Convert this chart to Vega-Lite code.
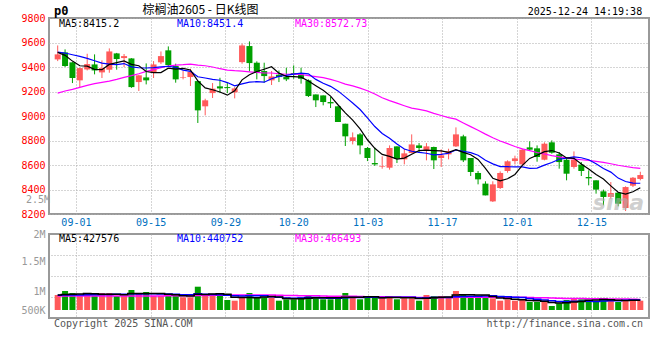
{
  "$schema": "https://vega.github.io/schema/vega-lite/v6.json",
  "autosize": {"type": "pad"},
  "padding": {"left": 19, "top": 3, "right": 0, "bottom": 0},
  "background": "#ffffff",
  "config": {
    "view": {"stroke": "#999999", "strokeWidth": 2},
    "font": "DejaVu Sans Mono",
    "text": {"font": "DejaVu Sans Mono", "fontSize": 10},
    "axis": {"labelFont": "DejaVu Sans Mono", "labelFontSize": 10, "domain": false, "ticks": false, "gridColor": "#aaaaaa", "gridDash": [1, 2], "gridWidth": 1, "title": null, "labelOverlap": false, "labelFlush": false}
  },
  "datasets": {
    "k": [
      {"i":0,"d":"08-27","o":9462,"h":9576,"l":9448,"c":9503,"v":660000,"m5":9519,"m10":9522,"m30":9187,"vm5":660000,"vm10":650000,"vm30":615000},
      {"i":1,"d":"08-28","o":9519,"h":9544,"l":9400,"c":9408,"v":836000,"m5":9495,"m10":9514,"m30":9204,"vm5":680000,"vm10":655000,"vm30":615000},
      {"i":2,"d":"08-29","o":9438,"h":9440,"l":9269,"c":9310,"v":748000,"m5":9448,"m10":9500,"m30":9217,"vm5":690000,"vm10":660000,"vm30":615000},
      {"i":3,"d":"09-01","o":9291,"h":9395,"l":9236,"c":9391,"v":616000,"m5":9410,"m10":9487,"m30":9234,"vm5":700000,"vm10":665000,"vm30":615000},
      {"i":4,"d":"09-02","o":9380,"h":9508,"l":9372,"c":9424,"v":748000,"m5":9407,"m10":9470,"m30":9250,"vm5":722000,"vm10":670000,"vm30":615000},
      {"i":5,"d":"09-03","o":9421,"h":9503,"l":9340,"c":9372,"v":616000,"m5":9381,"m10":9451,"m30":9264,"vm5":713000,"vm10":675000,"vm30":615000},
      {"i":6,"d":"09-04","o":9356,"h":9454,"l":9310,"c":9391,"v":748000,"m5":9378,"m10":9432,"m30":9274,"vm5":695000,"vm10":680000,"vm30":615000},
      {"i":7,"d":"09-05","o":9378,"h":9552,"l":9353,"c":9527,"v":748000,"m5":9421,"m10":9424,"m30":9285,"vm5":695000,"vm10":685000,"vm30":615000},
      {"i":8,"d":"09-08","o":9511,"h":9515,"l":9378,"c":9465,"v":616000,"m5":9436,"m10":9419,"m30":9299,"vm5":695000,"vm10":690000,"vm30":615000},
      {"i":9,"d":"09-09","o":9473,"h":9506,"l":9400,"c":9489,"v":616000,"m5":9449,"m10":9428,"m30":9315,"vm5":669000,"vm10":695000,"vm30":615000},
      {"i":10,"d":"09-10","o":9470,"h":9472,"l":9230,"c":9236,"v":880000,"m5":9422,"m10":9401,"m30":9329,"vm5":722000,"vm10":717000,"vm30":615000},
      {"i":11,"d":"09-11","o":9277,"h":9335,"l":9204,"c":9332,"v":748000,"m5":9410,"m10":9394,"m30":9345,"vm5":722000,"vm10":708000,"vm30":620000},
      {"i":12,"d":"09-12","o":9315,"h":9429,"l":9258,"c":9291,"v":792000,"m5":9363,"m10":9392,"m30":9364,"vm5":730000,"vm10":713000,"vm30":620000},
      {"i":13,"d":"09-15","o":9351,"h":9448,"l":9310,"c":9421,"v":616000,"m5":9354,"m10":9395,"m30":9378,"vm5":730000,"vm10":713000,"vm30":620000},
      {"i":14,"d":"09-16","o":9438,"h":9527,"l":9424,"c":9489,"v":616000,"m5":9354,"m10":9401,"m30":9394,"vm5":730000,"vm10":700000,"vm30":620000},
      {"i":15,"d":"09-17","o":9536,"h":9568,"l":9408,"c":9416,"v":704000,"m5":9390,"m10":9406,"m30":9408,"vm5":695000,"vm10":708000,"vm30":625000},
      {"i":16,"d":"09-18","o":9408,"h":9427,"l":9272,"c":9299,"v":616000,"m5":9383,"m10":9397,"m30":9416,"vm5":669000,"vm10":695000,"vm30":625000},
      {"i":17,"d":"09-19","o":9310,"h":9367,"l":9299,"c":9315,"v":559000,"m5":9388,"m10":9375,"m30":9419,"vm5":622000,"vm10":676000,"vm30":625000},
      {"i":18,"d":"09-22","o":9318,"h":9386,"l":9245,"c":9359,"v":559000,"m5":9376,"m10":9365,"m30":9424,"vm5":611000,"vm10":671000,"vm30":630000},
      {"i":19,"d":"09-23","o":9285,"h":9291,"l":8943,"c":9046,"v":1025000,"m5":9287,"m10":9320,"m30":9416,"vm5":693000,"vm10":712000,"vm30":635000},
      {"i":20,"d":"09-24","o":9079,"h":9141,"l":9005,"c":9128,"v":660000,"m5":9229,"m10":9310,"m30":9410,"vm5":684000,"vm10":690000,"vm30":640000},
      {"i":21,"d":"09-25","o":9187,"h":9269,"l":9147,"c":9223,"v":704000,"m5":9214,"m10":9299,"m30":9400,"vm5":701000,"vm10":685000,"vm30":645000},
      {"i":22,"d":"09-26","o":9242,"h":9312,"l":9187,"c":9225,"v":616000,"m5":9196,"m10":9292,"m30":9386,"vm5":713000,"vm10":668000,"vm30":650000},
      {"i":23,"d":"09-29","o":9236,"h":9269,"l":9187,"c":9228,"v":440000,"m5":9170,"m10":9273,"m30":9375,"vm5":689000,"vm10":650000,"vm30":655000},
      {"i":24,"d":"09-30","o":9193,"h":9236,"l":9144,"c":9225,"v":409000,"m5":9206,"m10":9246,"m30":9370,"vm5":566000,"vm10":629000,"vm30":655000},
      {"i":25,"d":"10-09","o":9440,"h":9590,"l":9427,"c":9576,"v":559000,"m5":9295,"m10":9262,"m30":9367,"vm5":546000,"vm10":615000,"vm30":658000},
      {"i":26,"d":"10-10","o":9571,"h":9609,"l":9364,"c":9432,"v":748000,"m5":9337,"m10":9276,"m30":9361,"vm5":554000,"vm10":628000,"vm30":660000},
      {"i":27,"d":"10-13","o":9435,"h":9446,"l":9299,"c":9353,"v":559000,"m5":9363,"m10":9280,"m30":9356,"vm5":543000,"vm10":628000,"vm30":662000},
      {"i":28,"d":"10-14","o":9367,"h":9435,"l":9272,"c":9326,"v":559000,"m5":9382,"m10":9276,"m30":9351,"vm5":567000,"vm10":628000,"vm30":663000},
      {"i":29,"d":"10-15","o":9291,"h":9367,"l":9253,"c":9323,"v":559000,"m5":9402,"m10":9304,"m30":9351,"vm5":597000,"vm10":581000,"vm30":663000},
      {"i":30,"d":"10-16","o":9337,"h":9372,"l":9277,"c":9318,"v":409000,"m5":9350,"m10":9323,"m30":9345,"vm5":567000,"vm10":556000,"vm30":654000},
      {"i":31,"d":"10-17","o":9318,"h":9394,"l":9285,"c":9299,"v":471000,"m5":9324,"m10":9331,"m30":9341,"vm5":511000,"vm10":533000,"vm30":642000},
      {"i":32,"d":"10-20","o":9351,"h":9413,"l":9304,"c":9342,"v":471000,"m5":9322,"m10":9342,"m30":9342,"vm5":494000,"vm10":518000,"vm30":633000},
      {"i":33,"d":"10-21","o":9340,"h":9394,"l":9264,"c":9304,"v":559000,"m5":9317,"m10":9350,"m30":9339,"vm5":494000,"vm10":530000,"vm30":631000},
      {"i":34,"d":"10-22","o":9291,"h":9299,"l":9155,"c":9163,"v":660000,"m5":9285,"m10":9344,"m30":9330,"vm5":514000,"vm10":555000,"vm30":628000},
      {"i":35,"d":"10-23","o":9176,"h":9176,"l":9073,"c":9128,"v":559000,"m5":9247,"m10":9299,"m30":9322,"vm5":544000,"vm10":555000,"vm30":626000},
      {"i":36,"d":"10-24","o":9168,"h":9168,"l":9087,"c":9114,"v":471000,"m5":9210,"m10":9267,"m30":9313,"vm5":544000,"vm10":528000,"vm30":617000},
      {"i":37,"d":"10-27","o":9114,"h":9155,"l":9065,"c":9103,"v":471000,"m5":9162,"m10":9242,"m30":9299,"vm5":544000,"vm10":519000,"vm30":608000},
      {"i":38,"d":"10-28","o":9079,"h":9079,"l":8951,"c":8951,"v":559000,"m5":9092,"m10":9205,"m30":9282,"vm5":544000,"vm10":519000,"vm30":606000},
      {"i":39,"d":"10-29","o":8937,"h":8937,"l":8755,"c":8834,"v":748000,"m5":9026,"m10":9156,"m30":9260,"vm5":562000,"vm10":538000,"vm30":610000},
      {"i":40,"d":"10-30","o":8796,"h":8866,"l":8768,"c":8826,"v":559000,"m5":8966,"m10":9106,"m30":9246,"vm5":562000,"vm10":553000,"vm30":600000},
      {"i":41,"d":"10-31","o":8850,"h":8861,"l":8687,"c":8760,"v":471000,"m5":8895,"m10":9053,"m30":9227,"vm5":562000,"vm10":553000,"vm30":590000},
      {"i":42,"d":"11-03","o":8739,"h":8747,"l":8632,"c":8657,"v":559000,"m5":8806,"m10":8984,"m30":9206,"vm5":579000,"vm10":562000,"vm30":583000},
      {"i":43,"d":"11-04","o":8616,"h":8741,"l":8592,"c":8605,"v":559000,"m5":8736,"m10":8914,"m30":9179,"vm5":579000,"vm10":562000,"vm30":581000},
      {"i":44,"d":"11-05","o":8584,"h":8671,"l":8570,"c":8589,"v":559000,"m5":8687,"m10":8857,"m30":9149,"vm5":541000,"vm10":552000,"vm30":579000},
      {"i":45,"d":"11-06","o":8578,"h":8760,"l":8562,"c":8739,"v":616000,"m5":8670,"m10":8818,"m30":9126,"vm5":553000,"vm10":557000,"vm30":576000},
      {"i":46,"d":"11-07","o":8752,"h":8752,"l":8616,"c":8651,"v":471000,"m5":8648,"m10":8772,"m30":9105,"vm5":553000,"vm10":557000,"vm30":571000},
      {"i":47,"d":"11-10","o":8646,"h":8733,"l":8605,"c":8695,"v":515000,"m5":8656,"m10":8731,"m30":9084,"vm5":544000,"vm10":562000,"vm30":569000},
      {"i":48,"d":"11-11","o":8698,"h":8850,"l":8695,"c":8768,"v":515000,"m5":8688,"m10":8712,"m30":9064,"vm5":535000,"vm10":557000,"vm30":568000},
      {"i":49,"d":"11-12","o":8760,"h":8779,"l":8698,"c":8739,"v":409000,"m5":8718,"m10":8703,"m30":9054,"vm5":505000,"vm10":523000,"vm30":547000},
      {"i":50,"d":"11-13","o":8714,"h":8779,"l":8638,"c":8752,"v":660000,"m5":8721,"m10":8696,"m30":9042,"vm5":514000,"vm10":533000,"vm30":547000},
      {"i":51,"d":"11-14","o":8747,"h":8750,"l":8567,"c":8638,"v":616000,"m5":8718,"m10":8683,"m30":9022,"vm5":543000,"vm10":548000,"vm30":545000},
      {"i":52,"d":"11-17","o":8657,"h":8728,"l":8584,"c":8679,"v":616000,"m5":8715,"m10":8686,"m30":9004,"vm5":563000,"vm10":554000,"vm30":545000},
      {"i":53,"d":"11-18","o":8687,"h":8733,"l":8646,"c":8711,"v":559000,"m5":8704,"m10":8696,"m30":8987,"vm5":572000,"vm10":554000,"vm30":549000},
      {"i":54,"d":"11-19","o":8752,"h":8907,"l":8747,"c":8850,"v":836000,"m5":8726,"m10":8722,"m30":8974,"vm5":657000,"vm10":581000,"vm30":563000},
      {"i":55,"d":"11-20","o":8834,"h":8847,"l":8624,"c":8638,"v":704000,"m5":8703,"m10":8712,"m30":8943,"vm5":666000,"vm10":590000,"vm30":568000},
      {"i":56,"d":"11-21","o":8657,"h":8657,"l":8510,"c":8543,"v":616000,"m5":8684,"m10":8701,"m30":8913,"vm5":666000,"vm10":605000,"vm30":563000},
      {"i":57,"d":"11-24","o":8535,"h":8551,"l":8442,"c":8483,"v":559000,"m5":8645,"m10":8680,"m30":8884,"vm5":655000,"vm10":609000,"vm30":563000},
      {"i":58,"d":"11-25","o":8448,"h":8467,"l":8352,"c":8352,"v":559000,"m5":8573,"m10":8639,"m30":8852,"vm5":655000,"vm10":613000,"vm30":563000},
      {"i":59,"d":"11-26","o":8303,"h":8467,"l":8298,"c":8442,"v":515000,"m5":8492,"m10":8609,"m30":8822,"vm5":591000,"vm10":624000,"vm30":562000},
      {"i":60,"d":"11-27","o":8412,"h":8548,"l":8404,"c":8535,"v":409000,"m5":8471,"m10":8587,"m30":8796,"vm5":532000,"vm10":599000,"vm30":562000},
      {"i":61,"d":"11-28","o":8551,"h":8638,"l":8537,"c":8630,"v":471000,"m5":8488,"m10":8586,"m30":8774,"vm5":503000,"vm10":584000,"vm30":562000},
      {"i":62,"d":"12-01","o":8632,"h":8676,"l":8605,"c":8654,"v":409000,"m5":8523,"m10":8584,"m30":8751,"vm5":473000,"vm10":564000,"vm30":560000},
      {"i":63,"d":"12-02","o":8605,"h":8733,"l":8597,"c":8725,"v":440000,"m5":8597,"m10":8585,"m30":8732,"vm5":449000,"vm10":552000,"vm30":556000},
      {"i":64,"d":"12-03","o":8744,"h":8793,"l":8720,"c":8725,"v":352000,"m5":8654,"m10":8573,"m30":8717,"vm5":416000,"vm10":503000,"vm30":545000},
      {"i":65,"d":"12-04","o":8736,"h":8760,"l":8627,"c":8665,"v":352000,"m5":8680,"m10":8575,"m30":8702,"vm5":405000,"vm10":468000,"vm30":539000},
      {"i":66,"d":"12-05","o":8643,"h":8785,"l":8638,"c":8774,"v":352000,"m5":8709,"m10":8599,"m30":8690,"vm5":381000,"vm10":442000,"vm30":535000},
      {"i":67,"d":"12-08","o":8785,"h":8801,"l":8692,"c":8700,"v":176000,"m5":8718,"m10":8620,"m30":8677,"vm5":334000,"vm10":404000,"vm30":525000},
      {"i":68,"d":"12-09","o":8687,"h":8706,"l":8570,"c":8624,"v":295000,"m5":8698,"m10":8647,"m30":8666,"vm5":305000,"vm10":377000,"vm30":516000},
      {"i":69,"d":"12-10","o":8643,"h":8652,"l":8475,"c":8529,"v":440000,"m5":8658,"m10":8656,"m30":8656,"vm5":323000,"vm10":370000,"vm30":506000},
      {"i":70,"d":"12-11","o":8584,"h":8711,"l":8570,"c":8643,"v":515000,"m5":8654,"m10":8667,"m30":8650,"vm5":356000,"vm10":380000,"vm30":504000},
      {"i":71,"d":"12-12","o":8603,"h":8624,"l":8510,"c":8551,"v":471000,"m5":8609,"m10":8659,"m30":8643,"vm5":379000,"vm10":380000,"vm30":504000},
      {"i":72,"d":"12-15","o":8502,"h":8556,"l":8434,"c":8491,"v":440000,"m5":8568,"m10":8643,"m30":8637,"vm5":432000,"vm10":383000,"vm30":500000},
      {"i":73,"d":"12-16","o":8475,"h":8475,"l":8366,"c":8399,"v":352000,"m5":8523,"m10":8610,"m30":8630,"vm5":444000,"vm10":375000,"vm30":493000},
      {"i":74,"d":"12-17","o":8385,"h":8399,"l":8271,"c":8339,"v":515000,"m5":8485,"m10":8572,"m30":8622,"vm5":459000,"vm10":391000,"vm30":492000},
      {"i":75,"d":"12-18","o":8339,"h":8461,"l":8325,"c":8371,"v":471000,"m5":8430,"m10":8542,"m30":8610,"vm5":450000,"vm10":403000,"vm30":487000},
      {"i":76,"d":"12-19","o":8374,"h":8380,"l":8263,"c":8284,"v":352000,"m5":8377,"m10":8493,"m30":8598,"vm5":426000,"vm10":403000,"vm30":483000},
      {"i":77,"d":"12-22","o":8249,"h":8426,"l":8224,"c":8420,"v":409000,"m5":8363,"m10":8465,"m30":8588,"vm5":420000,"vm10":426000,"vm30":480000},
      {"i":78,"d":"12-23","o":8431,"h":8502,"l":8420,"c":8496,"v":409000,"m5":8382,"m10":8452,"m30":8579,"vm5":431000,"vm10":437000,"vm30":472000},
      {"i":79,"d":"12-24","o":8486,"h":8545,"l":8475,"c":8518,"v":409000,"m5":8415,"m10":8451,"m30":8573,"vm5":428000,"vm10":441000,"vm30":466000}
    ]
  },
  "spacing": 20,
  "bounds": "flush",
  "vconcat": [
    {
      "width": 600,
      "height": 196,
      "data": {"name": "k"},
      "layer": [
        {
          "mark": {"type": "rule", "strokeWidth": 1},
          "encoding": {
            "x": {"field": "i", "type": "quantitative", "scale": {"domain": [-0.5, 79.5], "nice": false, "zero": false},
              "axis": {"values": [2.47, 12.6, 22.74, 31.94, 42.03, 52.1, 62.26, 72.37], "tickCount": 50,
                "labelExpr": "datum.value < 5 ? '09-01' : datum.value < 15 ? '09-15' : datum.value < 25 ? '09-29' : datum.value < 35 ? '10-20' : datum.value < 45 ? '11-03' : datum.value < 55 ? '11-17' : datum.value < 65 ? '12-01' : '12-15'",
                "labelColor": "#0070c0", "labelPadding": 3, "grid": true}},
            "y": {"field": "l", "type": "quantitative", "scale": {"domain": [8200, 9800], "nice": false, "zero": false},
              "axis": {"values": [8200, 8400, 8600, 8800, 9000, 9200, 9400, 9600, 9800], "tickCount": 50, "format": "d",
                "labelColor": "#ff0000", "labelPadding": 4, "labelBaseline": "middle", "grid": true}},
            "y2": {"field": "h"},
            "color": {"condition": {"test": "datum.c >= datum.o", "value": "#ff5a5a"}, "value": "#00a000"}
          }
        },
        {
          "mark": {"type": "bar", "width": 6},
          "encoding": {
            "x": {"field": "i", "type": "quantitative"},
            "y": {"field": "o", "type": "quantitative"},
            "y2": {"field": "c"},
            "color": {"condition": {"test": "datum.c >= datum.o", "value": "#ff5a5a"}, "value": "#00a000"}
          }
        },
        {"mark": {"type": "line", "color": "#ff00ff", "strokeWidth": 1.2}, "encoding": {"x": {"field": "i", "type": "quantitative"}, "y": {"field": "m30", "type": "quantitative"}}},
        {"mark": {"type": "line", "color": "#0000ff", "strokeWidth": 1.2}, "encoding": {"x": {"field": "i", "type": "quantitative"}, "y": {"field": "m10", "type": "quantitative"}}},
        {"mark": {"type": "line", "color": "#000000", "strokeWidth": 1.2}, "encoding": {"x": {"field": "i", "type": "quantitative"}, "y": {"field": "m5", "type": "quantitative"}}},
        {"data": {"values": [{}]}, "mark": {"type": "text", "text": "sina", "align": "right", "baseline": "middle", "color": "#b0b0b0", "opacity": 0.6, "font": "DejaVu Sans", "fontStyle": "italic", "fontWeight": "bold", "fontSize": 22},
          "encoding": {"x": {"datum": 79.5, "type": "quantitative"}, "y": {"datum": 8290, "type": "quantitative"}}},
        {"data": {"values": [{}]}, "mark": {"type": "text", "text": "2.5M", "align": "right", "baseline": "middle", "color": "#999999", "dx": -4},
          "encoding": {"x": {"datum": -0.5, "type": "quantitative"}, "y": {"datum": 8312, "type": "quantitative"}}},
        {"data": {"values": [{}]}, "mark": {"type": "text", "text": "MA5:8415.2", "align": "left", "baseline": "middle", "color": "#000000"},
          "encoding": {"x": {"datum": 0.17, "type": "quantitative"}, "y": {"datum": 9751, "type": "quantitative"}}},
        {"data": {"values": [{}]}, "mark": {"type": "text", "text": "MA10:8451.4", "align": "left", "baseline": "middle", "color": "#0000ff"},
          "encoding": {"x": {"datum": 16.17, "type": "quantitative"}, "y": {"datum": 9751, "type": "quantitative"}}},
        {"data": {"values": [{}]}, "mark": {"type": "text", "text": "MA30:8572.73", "align": "left", "baseline": "middle", "color": "#ff00ff"},
          "encoding": {"x": {"datum": 32.17, "type": "quantitative"}, "y": {"datum": 9751, "type": "quantitative"}}},
        {"data": {"values": [{}]}, "mark": {"type": "text", "text": "棕榈油2605 - 日K线图", "align": "left", "baseline": "top", "color": "#000000", "font": "Noto Sans CJK SC", "fontSize": 12},
          "encoding": {"x": {"datum": 11.5, "type": "quantitative"}, "y": {"datum": 9906, "type": "quantitative"}}},
        {"data": {"values": [{}]}, "mark": {"type": "text", "text": "p0", "align": "left", "baseline": "top", "color": "#000000", "fontWeight": "bold", "fontSize": 12},
          "encoding": {"x": {"datum": -0.5, "type": "quantitative"}, "y": {"datum": 9898, "type": "quantitative"}}},
        {"data": {"values": [{}]}, "mark": {"type": "text", "text": "2025-12-24 14:19:38", "align": "right", "baseline": "middle", "color": "#000000"},
          "encoding": {"x": {"datum": 79.25, "type": "quantitative"}, "y": {"datum": 9849, "type": "quantitative"}}}
      ]
    },
    {
      "width": 600,
      "height": 84,
      "data": {"name": "k"},
      "resolve": {"scale": {"y": "independent"}, "axis": {"y": "independent"}},
      "layer": [
        {
          "layer": [
            {
              "mark": {"type": "bar", "width": 6},
              "encoding": {
                "x": {"field": "i", "type": "quantitative", "scale": {"domain": [-0.5, 79.5], "nice": false, "zero": false},
                  "axis": {"values": [2.47, 12.6, 22.74, 31.94, 42.03, 52.1, 62.26, 72.37], "tickCount": 50, "labels": false, "grid": true}},
                "y": {"field": "v", "type": "quantitative", "scale": {"domain": [-352000, 3344000], "nice": false, "zero": false},
                  "axis": {"values": [0, 836000, 2156000, 3344000], "tickCount": 50,
                    "labelExpr": "datum.value == 0 ? '500K' : datum.value == 836000 ? '1M' : datum.value == 2156000 ? '1.5M' : '2M'",
                    "labelColor": "#999999", "labelPadding": 4, "labelBaseline": "middle", "grid": false}},
                "y2": {"datum": 0},
                "color": {"condition": {"test": "datum.c >= datum.o", "value": "#ff5a5a"}, "value": "#00a000"}
              }
            },
            {"mark": {"type": "line", "color": "#ff00ff", "strokeWidth": 1.5, "interpolate": "step"}, "encoding": {"x": {"field": "i", "type": "quantitative"}, "y": {"field": "vm30", "type": "quantitative"}}},
            {"mark": {"type": "line", "color": "#0000ff", "strokeWidth": 1.5, "interpolate": "step"}, "encoding": {"x": {"field": "i", "type": "quantitative"}, "y": {"field": "vm10", "type": "quantitative"}}},
            {"mark": {"type": "line", "color": "#000000", "strokeWidth": 1.5, "interpolate": "step"}, "encoding": {"x": {"field": "i", "type": "quantitative"}, "y": {"field": "vm5", "type": "quantitative"}}},
            {"data": {"values": [{}]}, "mark": {"type": "text", "text": "MA5:427576", "align": "left", "baseline": "middle", "color": "#000000"},
              "encoding": {"x": {"datum": 0.17, "type": "quantitative"}, "y": {"datum": 3124000, "type": "quantitative"}}},
            {"data": {"values": [{}]}, "mark": {"type": "text", "text": "MA10:440752", "align": "left", "baseline": "middle", "color": "#0000ff"},
              "encoding": {"x": {"datum": 16.17, "type": "quantitative"}, "y": {"datum": 3124000, "type": "quantitative"}}},
            {"data": {"values": [{}]}, "mark": {"type": "text", "text": "MA30:466493", "align": "left", "baseline": "middle", "color": "#ff00ff"},
              "encoding": {"x": {"datum": 32.17, "type": "quantitative"}, "y": {"datum": 3124000, "type": "quantitative"}}},
            {"data": {"values": [{}]}, "mark": {"type": "text", "text": "Copyright 2025 SINA.COM", "align": "left", "baseline": "middle", "color": "#555555"},
              "encoding": {"x": {"datum": -0.5, "type": "quantitative"}, "y": {"datum": -616000, "type": "quantitative"}}},
            {"data": {"values": [{}]}, "mark": {"type": "text", "text": "http://finance.sina.com.cn", "align": "right", "baseline": "middle", "color": "#555555"},
              "encoding": {"x": {"datum": 79.37, "type": "quantitative"}, "y": {"datum": -616000, "type": "quantitative"}}}
          ]
        },
        {
          "mark": {"type": "bar", "width": 6, "opacity": 0},
          "encoding": {
            "x": {"field": "i", "type": "quantitative"},
            "y": {"field": "v", "type": "quantitative", "scale": {"domain": [-352000, 3344000], "nice": false, "zero": false},
              "axis": {"orient": "right", "values": [572000, 1496000, 2420000], "tickCount": 50, "labels": false, "grid": true}},
            "y2": {"datum": 0}
          }
        }
      ]
    }
  ]
}
